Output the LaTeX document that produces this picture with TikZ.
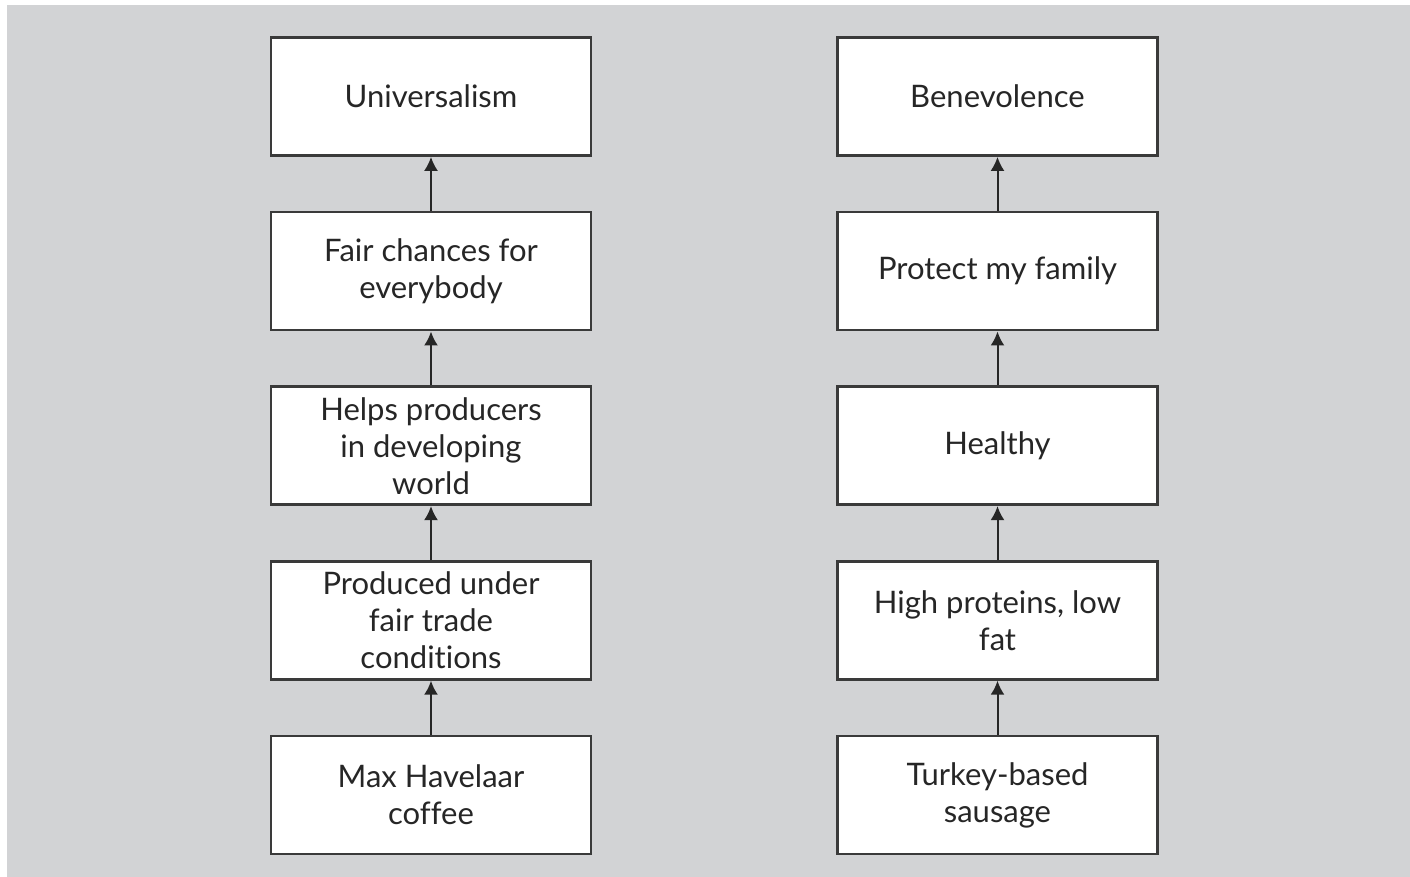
\documentclass[tikz,border=0pt]{standalone}
\usepackage{fontspec}
\setmainfont{Lato}[Ligatures=NoCommon]
\usepackage{tikz}
\usetikzlibrary{positioning,arrows.meta}

\definecolor{panelgray}{HTML}{D2D3D5}
\definecolor{boxline}{HTML}{3A3A3A}

\tikzset{
  chainbox/.style={draw=boxline,line width=1.3pt,fill=white,
    minimum width=160pt,minimum height=59pt,align=center,
    font=\fontsize{15.5}{18.5}\selectfont,text=black!85},
  uparrow/.style={-{Latex[length=7pt,width=7pt]},line width=1pt,black!85}
}

\begin{document}
\begin{tikzpicture}[x=0.5pt,y=-0.5pt,node distance=27pt]
	\useasboundingbox (0,0) rectangle (1410,877);
	\fill[panelgray] (7,5) rectangle (1410,877);
	% coffee chain
	\node[chainbox] (coffee) at (431,795) {Max Havelaar\\coffee};
	\node[chainbox,above=of coffee] (fairtrade) {Produced under\\fair trade\\conditions};
	\node[chainbox,above=of fairtrade] (producers) {Helps producers\\in developing\\world};
	\node[chainbox,above=of producers] (chances) {Fair chances for\\everybody};
	\node[chainbox,above=of chances] (universalism) {Universalism};
	% sausage chain
	\node[chainbox] (sausage) at (997.5,795) {Turkey-based\\sausage};
	\node[chainbox,above=of sausage] (proteins) {High proteins, low\\fat};
	\node[chainbox,above=of proteins] (healthy) {Healthy};
	\node[chainbox,above=of healthy] (family) {Protect my family};
	\node[chainbox,above=of family] (benevolence) {Benevolence};
	\foreach \a/\b in {coffee/fairtrade,fairtrade/producers,producers/chances,chances/universalism,
			sausage/proteins,proteins/healthy,healthy/family,family/benevolence}
		\draw[uparrow] (\a) -- (\b);
\end{tikzpicture}
\end{document}
